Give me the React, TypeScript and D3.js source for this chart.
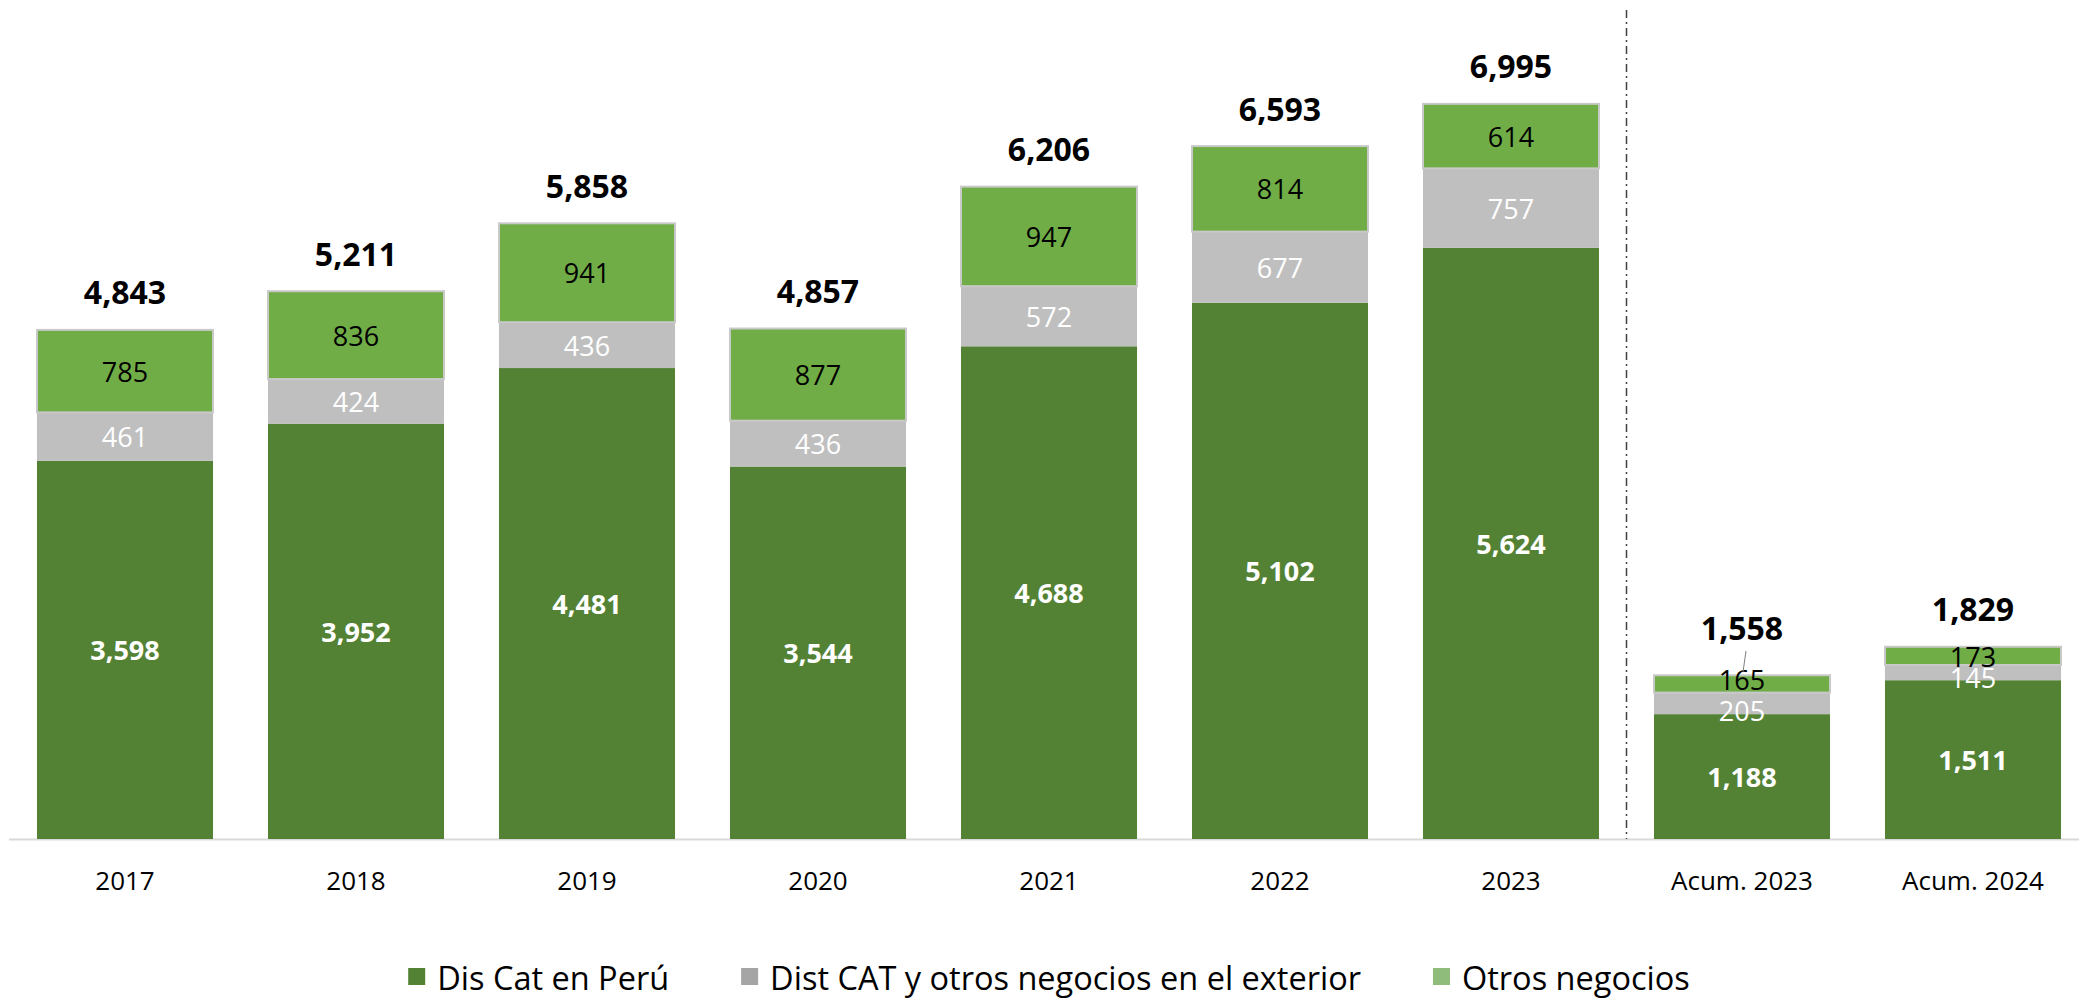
import React, { useEffect, useRef } from 'react';
import * as d3 from 'd3';

// categories and series (millones)
const categories = ['2017', '2018', '2019', '2020', '2021', '2022', '2023', 'Acum. 2023', 'Acum. 2024'];
const disCatPeru = [3598, 3952, 4481, 3544, 4688, 5102, 5624, 1188, 1511];
const distCatExterior = [461, 424, 436, 436, 572, 677, 757, 205, 145];
const otrosNegocios = [785, 836, 941, 877, 947, 814, 614, 165, 173];
const totals = [4843, 5211, 5858, 4857, 6206, 6593, 6995, 1558, 1829];
const seriesNames = ['Dis Cat en Perú', 'Dist CAT y otros negocios en el exterior', 'Otros negocios'];

const FONT = '"Open Sans", "Noto Sans", sans-serif';

export default function App() {
  const ref = useRef<SVGSVGElement>(null);

  useEffect(() => {
    document.body.style.margin = '0';
    var W = 2079, H = 1000;
    var svg = d3.select(ref.current).attr('width', W).attr('height', H);
    svg.selectAll('*').remove();

    var x = d3.scaleBand<string>()
      .domain(categories)
      .range([9.5, 2088.5])
      .paddingInner(0.238)
      .paddingOuter(0.119);

    var base = 839;
    var y = d3.scaleLinear().domain([0, 8000]).range([base, base - 8000 * 0.1051]);

    var rows = categories.map((c, i) => ({
      cat: c,
      peru: disCatPeru[i],
      ext: distCatExterior[i],
      otros: otrosNegocios[i],
      total: totals[i]
    }));

    var stack = d3.stack<any>().keys(['peru', 'ext', 'otros'])(rows);
    var fills = ['#548235', '#BFBFBF', '#70AD47'];
    var labelColor = ['#FFFFFF', '#FFFFFF', '#000000'];
    var labelWeight = ['bold', 'normal', 'normal'];

    // axis line
    svg.append('line')
      .attr('x1', 9).attr('x2', W)
      .attr('y1', base + 0.5).attr('y2', base + 0.5)
      .attr('stroke', '#D9D9D9').attr('stroke-width', 2);

    // separator between years and accumulated
    var sepX = (x('2023')! + x.bandwidth() + x('Acum. 2023')!) / 2;
    svg.append('line')
      .attr('x1', sepX).attr('x2', sepX)
      .attr('y1', 10).attr('y2', base)
      .attr('stroke', '#404040').attr('stroke-width', 1.5)
      .attr('stroke-dasharray', '8,4,2,4');

    stack.forEach((layer, li) => {
      var g = svg.append('g');
      g.selectAll('rect')
        .data(layer)
        .enter().append('rect')
        .attr('x', (d: any) => x(d.data.cat)!)
        .attr('width', x.bandwidth())
        .attr('y', (d: any) => y(d[1]))
        .attr('height', (d: any) => y(d[0]) - y(d[1]))
        .attr('fill', fills[li])
        .attr('stroke', li == 2 ? '#C9C9C9' : 'none')
        .attr('stroke-width', 2);
    });

    // small label nudges for the thin accumulated bars
    var nudge: Record<string, number> = { '1-7': 7, '2-7': -4, '1-8': 5, '2-8': 1 };

    stack.forEach((layer, li) => {
      svg.append('g').selectAll('text')
        .data(layer)
        .enter().append('text')
        .attr('x', (d: any) => x(d.data.cat)! + x.bandwidth() / 2)
        .attr('y', (d: any, i) => (y(d[0]) + y(d[1])) / 2 + (nudge[li + '-' + i] || 0))
        .attr('text-anchor', 'middle')
        .attr('dominant-baseline', 'central')
        .attr('font-family', FONT)
        .attr('font-size', 27)
        .attr('font-weight', labelWeight[li])
        .attr('fill', labelColor[li])
        .text((d: any) => d3.format(',')(d[1] - d[0]));
    });

    // totals on top
    svg.append('g').selectAll('text')
      .data(rows)
      .enter().append('text')
      .attr('x', d => x(d.cat)! + x.bandwidth() / 2)
      .attr('y', (d, i) => y(d.peru + d.ext + d.otros) - (i == 7 ? 48 : 38))
      .attr('text-anchor', 'middle')
      .attr('dominant-baseline', 'central')
      .attr('font-family', FONT)
      .attr('font-size', 32)
      .attr('font-weight', 'bold')
      .attr('fill', '#000')
      .text(d => d3.format(',')(d.total));

    // leader line for Acum. 2023 total
    var cx7 = x('Acum. 2023')! + x.bandwidth() / 2;
    svg.append('line')
      .attr('x1', cx7 + 4).attr('y1', 651)
      .attr('x2', cx7 + 1).attr('y2', 672)
      .attr('stroke', '#7F7F7F').attr('stroke-width', 1);

    // x labels
    svg.append('g').selectAll('text')
      .data(categories)
      .enter().append('text')
      .attr('x', d => x(d)! + x.bandwidth() / 2)
      .attr('y', 880)
      .attr('text-anchor', 'middle')
      .attr('dominant-baseline', 'central')
      .attr('font-family', FONT)
      .attr('font-size', 26)
      .attr('fill', '#000')
      .text(d => d);

    // legend
    var legendColors = ['#548235', '#A5A5A5', '#8FBC7A'];
    var lg = svg.append('g');
    var cursor = 0;
    seriesNames.forEach((name, i) => {
      var item = lg.append('g').attr('transform', 'translate(' + cursor + ',0)');
      item.append('rect').attr('x', 0).attr('y', -9).attr('width', 17).attr('height', 17).attr('fill', legendColors[i]);
      var t = item.append('text')
        .attr('x', 29).attr('y', 0)
        .attr('dominant-baseline', 'central')
        .attr('font-family', FONT)
        .attr('font-size', 32.5)
        .attr('fill', '#000')
        .text(name);
      var w = (t.node() as SVGTextElement).getComputedTextLength();
      cursor += 29 + w + 72;
    });
    var total = cursor - 72;
    lg.attr('transform', 'translate(' + (1049 - total / 2) + ',977)');
  }, []);

  return <svg ref={ref}></svg>;
}
